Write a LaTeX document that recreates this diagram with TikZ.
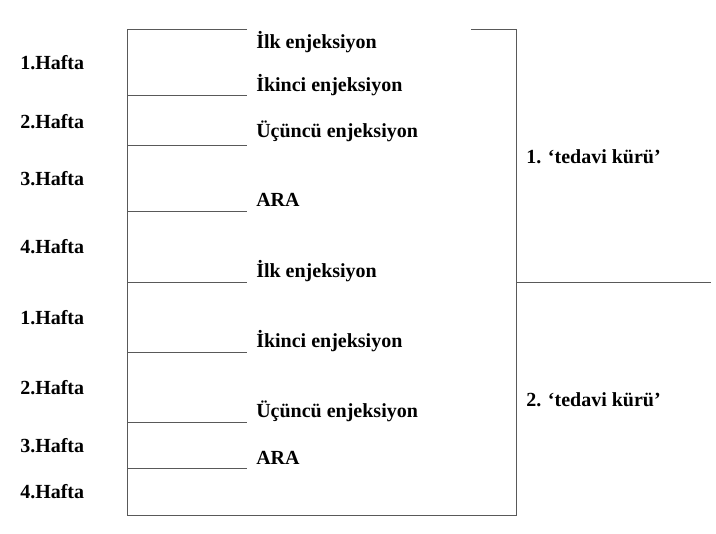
\documentclass[tikz,border=0pt]{standalone}
\usepackage{fontspec}
\setmainfont{Liberation Serif}
\usetikzlibrary{positioning}

\begin{document}
\begin{tikzpicture}[x=0.75pt,y=-0.75pt,
    lbl/.style={anchor=base west,inner sep=0pt,font=\bfseries\fontsize{15}{18}\selectfont},
    rule/.style={draw=black!65,line width=0.75pt}]
  \useasboundingbox (0,0) rectangle (716,534);

  % frame corners
  \coordinate (topl) at (127,30);
  \coordinate (topm) at (247,30);
  \coordinate (topr) at (471,30);
  \coordinate (ne) at (516,30);
  \coordinate (sw) at (127,515);
  \coordinate (se) at (516,515);
  \coordinate (mid) at (516,282);
  \coordinate (midend) at (711,282);

  \draw[rule] (topm) -- (topl) -- (sw) -- (se) -- (ne) -- (topr);
  \draw[rule] (mid) -- (midend);

  % week separators
  \coordinate (a1) at (127,96);  \coordinate (b1) at (247,96);
  \coordinate (a2) at (127,146); \coordinate (b2) at (247,146);
  \coordinate (a3) at (127,212); \coordinate (b3) at (247,212);
  \coordinate (a4) at (127,282); \coordinate (b4) at (247,282);
  \coordinate (a5) at (127,352); \coordinate (b5) at (247,352);
  \coordinate (a6) at (127,422); \coordinate (b6) at (247,422);
  \coordinate (a7) at (127,468); \coordinate (b7) at (247,468);
  \draw[rule] (a1) -- (b1);
  \draw[rule] (a2) -- (b2);
  \draw[rule] (a3) -- (b3);
  \draw[rule] (a4) -- (b4);
  \draw[rule] (a5) -- (b5);
  \draw[rule] (a6) -- (b6);
  \draw[rule] (a7) -- (b7);

  % weeks
  \node[lbl] (wa1) at (20,70) {1.Hafta};
  \node[lbl] (wa2) at (20,129) {2.Hafta};
  \node[lbl] (wa3) at (20,186) {3.Hafta};
  \node[lbl] (wa4) at (20,253) {4.Hafta};
  \node[lbl] (wb1) at (20,324) {1.Hafta};
  \node[lbl] (wb2) at (20,394) {2.Hafta};
  \node[lbl] (wb3) at (20,452) {3.Hafta};
  \node[lbl] (wb4) at (20,498) {4.Hafta};

  % steps
  \node[lbl] (ilk1) at (256,49) {İlk enjeksiyon};
  \node[lbl] (ikinci1) at (256,92) {İkinci enjeksiyon};
  \node[lbl] (ucuncu1) at (256,138) {Üçüncü enjeksiyon};
  \node[lbl] (ara1) at (256,207) {ARA};
  \node[lbl] (ilk2) at (256,277) {İlk enjeksiyon};
  \node[lbl] (ikinci2) at (256,347) {İkinci enjeksiyon};
  \node[lbl] (ucuncu2) at (256,417) {Üçüncü enjeksiyon};
  \node[lbl] (ara2) at (256,464) {ARA};

  % cures
  \node[lbl] (kur1) at (526,164) {1. ‘tedavi kürü’};
  \node[lbl] (kur2) at (526,406) {2. ‘tedavi kürü’};
\end{tikzpicture}
\end{document}
